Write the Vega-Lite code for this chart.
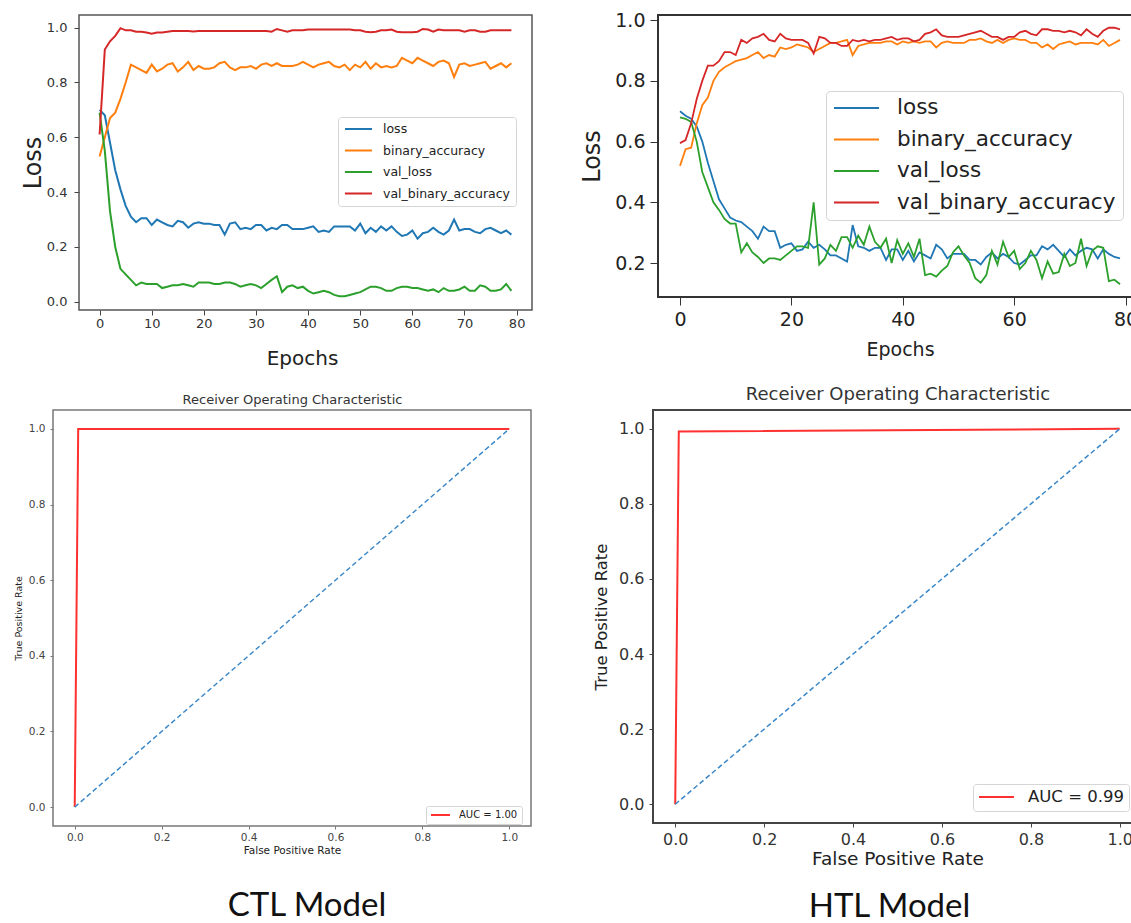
{
  "$schema": "https://vega.github.io/schema/vega-lite/v6.json",
  "background": "white",
  "padding": {"left": 12, "top": 10, "right": 0, "bottom": 0},
  "config": {
    "font": "DejaVu Sans",
    "axis": {"grid": false, "domain": false, "labelFlush": false, "labelOverlap": false, "labelFont": "DejaVu Sans", "titleFont": "DejaVu Sans", "titleFontWeight": "normal", "labelColor": "#333", "titleColor": "#222", "tickColor": "#444"},
    "legend": {"labelFont": "DejaVu Sans", "labelColor": "#222", "labelLimit": 500},
    "title": {"font": "Lato", "fontWeight": "normal"}
  },
  "datasets": {
    "ctl_hist": [
      {"epoch":0,"loss":0.70,"binary_accuracy":0.53,"val_loss":0.69,"val_binary_accuracy":0.61},
      {"epoch":1,"loss":0.68,"binary_accuracy":0.60,"val_loss":0.55,"val_binary_accuracy":0.92},
      {"epoch":2,"loss":0.58,"binary_accuracy":0.67,"val_loss":0.33,"val_binary_accuracy":0.95},
      {"epoch":3,"loss":0.48,"binary_accuracy":0.69,"val_loss":0.20,"val_binary_accuracy":0.97},
      {"epoch":4,"loss":0.41,"binary_accuracy":0.74,"val_loss":0.12,"val_binary_accuracy":0.998},
      {"epoch":5,"loss":0.35,"binary_accuracy":0.80,"val_loss":0.10,"val_binary_accuracy":0.99},
      {"epoch":6,"loss":0.31,"binary_accuracy":0.865,"val_loss":0.08,"val_binary_accuracy":0.99},
      {"epoch":7,"loss":0.29,"binary_accuracy":0.855,"val_loss":0.06,"val_binary_accuracy":0.985},
      {"epoch":8,"loss":0.305,"binary_accuracy":0.845,"val_loss":0.07,"val_binary_accuracy":0.985},
      {"epoch":9,"loss":0.305,"binary_accuracy":0.835,"val_loss":0.065,"val_binary_accuracy":0.982},
      {"epoch":10,"loss":0.28,"binary_accuracy":0.865,"val_loss":0.065,"val_binary_accuracy":0.978},
      {"epoch":11,"loss":0.30,"binary_accuracy":0.84,"val_loss":0.065,"val_binary_accuracy":0.982},
      {"epoch":12,"loss":0.29,"binary_accuracy":0.85,"val_loss":0.05,"val_binary_accuracy":0.982},
      {"epoch":13,"loss":0.28,"binary_accuracy":0.865,"val_loss":0.055,"val_binary_accuracy":0.985},
      {"epoch":14,"loss":0.275,"binary_accuracy":0.87,"val_loss":0.06,"val_binary_accuracy":0.988},
      {"epoch":15,"loss":0.295,"binary_accuracy":0.84,"val_loss":0.06,"val_binary_accuracy":0.988},
      {"epoch":16,"loss":0.29,"binary_accuracy":0.855,"val_loss":0.065,"val_binary_accuracy":0.988},
      {"epoch":17,"loss":0.27,"binary_accuracy":0.875,"val_loss":0.06,"val_binary_accuracy":0.988},
      {"epoch":18,"loss":0.285,"binary_accuracy":0.845,"val_loss":0.055,"val_binary_accuracy":0.986},
      {"epoch":19,"loss":0.29,"binary_accuracy":0.86,"val_loss":0.07,"val_binary_accuracy":0.988},
      {"epoch":20,"loss":0.285,"binary_accuracy":0.85,"val_loss":0.07,"val_binary_accuracy":0.988},
      {"epoch":21,"loss":0.285,"binary_accuracy":0.85,"val_loss":0.07,"val_binary_accuracy":0.988},
      {"epoch":22,"loss":0.28,"binary_accuracy":0.855,"val_loss":0.065,"val_binary_accuracy":0.988},
      {"epoch":23,"loss":0.28,"binary_accuracy":0.87,"val_loss":0.065,"val_binary_accuracy":0.988},
      {"epoch":24,"loss":0.245,"binary_accuracy":0.875,"val_loss":0.07,"val_binary_accuracy":0.988},
      {"epoch":25,"loss":0.285,"binary_accuracy":0.855,"val_loss":0.07,"val_binary_accuracy":0.988},
      {"epoch":26,"loss":0.29,"binary_accuracy":0.845,"val_loss":0.065,"val_binary_accuracy":0.988},
      {"epoch":27,"loss":0.265,"binary_accuracy":0.855,"val_loss":0.055,"val_binary_accuracy":0.988},
      {"epoch":28,"loss":0.27,"binary_accuracy":0.855,"val_loss":0.06,"val_binary_accuracy":0.988},
      {"epoch":29,"loss":0.265,"binary_accuracy":0.86,"val_loss":0.065,"val_binary_accuracy":0.988},
      {"epoch":30,"loss":0.28,"binary_accuracy":0.85,"val_loss":0.06,"val_binary_accuracy":0.988},
      {"epoch":31,"loss":0.28,"binary_accuracy":0.865,"val_loss":0.05,"val_binary_accuracy":0.988},
      {"epoch":32,"loss":0.26,"binary_accuracy":0.87,"val_loss":0.065,"val_binary_accuracy":0.988},
      {"epoch":33,"loss":0.27,"binary_accuracy":0.86,"val_loss":0.08,"val_binary_accuracy":0.985},
      {"epoch":34,"loss":0.265,"binary_accuracy":0.87,"val_loss":0.093,"val_binary_accuracy":0.995},
      {"epoch":35,"loss":0.28,"binary_accuracy":0.86,"val_loss":0.035,"val_binary_accuracy":0.99},
      {"epoch":36,"loss":0.28,"binary_accuracy":0.86,"val_loss":0.055,"val_binary_accuracy":0.985},
      {"epoch":37,"loss":0.265,"binary_accuracy":0.86,"val_loss":0.06,"val_binary_accuracy":0.99},
      {"epoch":38,"loss":0.265,"binary_accuracy":0.865,"val_loss":0.05,"val_binary_accuracy":0.99},
      {"epoch":39,"loss":0.265,"binary_accuracy":0.875,"val_loss":0.055,"val_binary_accuracy":0.99},
      {"epoch":40,"loss":0.27,"binary_accuracy":0.865,"val_loss":0.04,"val_binary_accuracy":0.993},
      {"epoch":41,"loss":0.275,"binary_accuracy":0.855,"val_loss":0.03,"val_binary_accuracy":0.993},
      {"epoch":42,"loss":0.255,"binary_accuracy":0.865,"val_loss":0.035,"val_binary_accuracy":0.993},
      {"epoch":43,"loss":0.26,"binary_accuracy":0.87,"val_loss":0.04,"val_binary_accuracy":0.993},
      {"epoch":44,"loss":0.255,"binary_accuracy":0.875,"val_loss":0.035,"val_binary_accuracy":0.993},
      {"epoch":45,"loss":0.275,"binary_accuracy":0.86,"val_loss":0.025,"val_binary_accuracy":0.993},
      {"epoch":46,"loss":0.275,"binary_accuracy":0.855,"val_loss":0.02,"val_binary_accuracy":0.993},
      {"epoch":47,"loss":0.275,"binary_accuracy":0.865,"val_loss":0.02,"val_binary_accuracy":0.993},
      {"epoch":48,"loss":0.275,"binary_accuracy":0.845,"val_loss":0.025,"val_binary_accuracy":0.993},
      {"epoch":49,"loss":0.26,"binary_accuracy":0.865,"val_loss":0.03,"val_binary_accuracy":0.99},
      {"epoch":50,"loss":0.285,"binary_accuracy":0.855,"val_loss":0.035,"val_binary_accuracy":0.99},
      {"epoch":51,"loss":0.25,"binary_accuracy":0.875,"val_loss":0.045,"val_binary_accuracy":0.985},
      {"epoch":52,"loss":0.27,"binary_accuracy":0.85,"val_loss":0.055,"val_binary_accuracy":0.983},
      {"epoch":53,"loss":0.255,"binary_accuracy":0.87,"val_loss":0.055,"val_binary_accuracy":0.985},
      {"epoch":54,"loss":0.275,"binary_accuracy":0.855,"val_loss":0.05,"val_binary_accuracy":0.99},
      {"epoch":55,"loss":0.26,"binary_accuracy":0.86,"val_loss":0.04,"val_binary_accuracy":0.99},
      {"epoch":56,"loss":0.275,"binary_accuracy":0.855,"val_loss":0.04,"val_binary_accuracy":0.993},
      {"epoch":57,"loss":0.255,"binary_accuracy":0.86,"val_loss":0.05,"val_binary_accuracy":0.985},
      {"epoch":58,"loss":0.24,"binary_accuracy":0.89,"val_loss":0.055,"val_binary_accuracy":0.983},
      {"epoch":59,"loss":0.245,"binary_accuracy":0.88,"val_loss":0.055,"val_binary_accuracy":0.983},
      {"epoch":60,"loss":0.26,"binary_accuracy":0.87,"val_loss":0.05,"val_binary_accuracy":0.983},
      {"epoch":61,"loss":0.23,"binary_accuracy":0.89,"val_loss":0.05,"val_binary_accuracy":0.985},
      {"epoch":62,"loss":0.25,"binary_accuracy":0.88,"val_loss":0.045,"val_binary_accuracy":0.995},
      {"epoch":63,"loss":0.255,"binary_accuracy":0.87,"val_loss":0.04,"val_binary_accuracy":0.993},
      {"epoch":64,"loss":0.27,"binary_accuracy":0.86,"val_loss":0.045,"val_binary_accuracy":0.985},
      {"epoch":65,"loss":0.255,"binary_accuracy":0.875,"val_loss":0.035,"val_binary_accuracy":0.993},
      {"epoch":66,"loss":0.245,"binary_accuracy":0.88,"val_loss":0.05,"val_binary_accuracy":0.99},
      {"epoch":67,"loss":0.26,"binary_accuracy":0.87,"val_loss":0.04,"val_binary_accuracy":0.99},
      {"epoch":68,"loss":0.30,"binary_accuracy":0.82,"val_loss":0.04,"val_binary_accuracy":0.99},
      {"epoch":69,"loss":0.26,"binary_accuracy":0.865,"val_loss":0.045,"val_binary_accuracy":0.99},
      {"epoch":70,"loss":0.265,"binary_accuracy":0.87,"val_loss":0.055,"val_binary_accuracy":0.985},
      {"epoch":71,"loss":0.265,"binary_accuracy":0.86,"val_loss":0.04,"val_binary_accuracy":0.99},
      {"epoch":72,"loss":0.255,"binary_accuracy":0.865,"val_loss":0.04,"val_binary_accuracy":0.99},
      {"epoch":73,"loss":0.25,"binary_accuracy":0.87,"val_loss":0.06,"val_binary_accuracy":0.985},
      {"epoch":74,"loss":0.265,"binary_accuracy":0.875,"val_loss":0.055,"val_binary_accuracy":0.985},
      {"epoch":75,"loss":0.27,"binary_accuracy":0.85,"val_loss":0.04,"val_binary_accuracy":0.99},
      {"epoch":76,"loss":0.26,"binary_accuracy":0.86,"val_loss":0.04,"val_binary_accuracy":0.99},
      {"epoch":77,"loss":0.25,"binary_accuracy":0.87,"val_loss":0.045,"val_binary_accuracy":0.99},
      {"epoch":78,"loss":0.26,"binary_accuracy":0.855,"val_loss":0.065,"val_binary_accuracy":0.99},
      {"epoch":79,"loss":0.245,"binary_accuracy":0.87,"val_loss":0.04,"val_binary_accuracy":0.99}
    ],
    "htl_hist": [
      {"epoch":0,"loss":0.70,"binary_accuracy":0.52,"val_loss":0.68,"val_binary_accuracy":0.595},
      {"epoch":1,"loss":0.685,"binary_accuracy":0.575,"val_loss":0.675,"val_binary_accuracy":0.605},
      {"epoch":2,"loss":0.675,"binary_accuracy":0.58,"val_loss":0.665,"val_binary_accuracy":0.66},
      {"epoch":3,"loss":0.65,"binary_accuracy":0.66,"val_loss":0.60,"val_binary_accuracy":0.74},
      {"epoch":4,"loss":0.60,"binary_accuracy":0.72,"val_loss":0.50,"val_binary_accuracy":0.80},
      {"epoch":5,"loss":0.53,"binary_accuracy":0.745,"val_loss":0.45,"val_binary_accuracy":0.85},
      {"epoch":6,"loss":0.47,"binary_accuracy":0.80,"val_loss":0.40,"val_binary_accuracy":0.85},
      {"epoch":7,"loss":0.41,"binary_accuracy":0.83,"val_loss":0.375,"val_binary_accuracy":0.865},
      {"epoch":8,"loss":0.38,"binary_accuracy":0.845,"val_loss":0.345,"val_binary_accuracy":0.895},
      {"epoch":9,"loss":0.35,"binary_accuracy":0.855,"val_loss":0.33,"val_binary_accuracy":0.895},
      {"epoch":10,"loss":0.34,"binary_accuracy":0.865,"val_loss":0.33,"val_binary_accuracy":0.885},
      {"epoch":11,"loss":0.335,"binary_accuracy":0.87,"val_loss":0.235,"val_binary_accuracy":0.935},
      {"epoch":12,"loss":0.32,"binary_accuracy":0.875,"val_loss":0.265,"val_binary_accuracy":0.925},
      {"epoch":13,"loss":0.305,"binary_accuracy":0.885,"val_loss":0.235,"val_binary_accuracy":0.94},
      {"epoch":14,"loss":0.28,"binary_accuracy":0.895,"val_loss":0.22,"val_binary_accuracy":0.945},
      {"epoch":15,"loss":0.32,"binary_accuracy":0.875,"val_loss":0.20,"val_binary_accuracy":0.955},
      {"epoch":16,"loss":0.305,"binary_accuracy":0.885,"val_loss":0.215,"val_binary_accuracy":0.935},
      {"epoch":17,"loss":0.305,"binary_accuracy":0.88,"val_loss":0.215,"val_binary_accuracy":0.93},
      {"epoch":18,"loss":0.25,"binary_accuracy":0.91,"val_loss":0.21,"val_binary_accuracy":0.955},
      {"epoch":19,"loss":0.26,"binary_accuracy":0.905,"val_loss":0.225,"val_binary_accuracy":0.94},
      {"epoch":20,"loss":0.265,"binary_accuracy":0.91,"val_loss":0.24,"val_binary_accuracy":0.935},
      {"epoch":21,"loss":0.24,"binary_accuracy":0.92,"val_loss":0.255,"val_binary_accuracy":0.935},
      {"epoch":22,"loss":0.245,"binary_accuracy":0.915,"val_loss":0.255,"val_binary_accuracy":0.935},
      {"epoch":23,"loss":0.27,"binary_accuracy":0.91,"val_loss":0.25,"val_binary_accuracy":0.925},
      {"epoch":24,"loss":0.25,"binary_accuracy":0.895,"val_loss":0.40,"val_binary_accuracy":0.89},
      {"epoch":25,"loss":0.26,"binary_accuracy":0.905,"val_loss":0.195,"val_binary_accuracy":0.945},
      {"epoch":26,"loss":0.245,"binary_accuracy":0.915,"val_loss":0.215,"val_binary_accuracy":0.94},
      {"epoch":27,"loss":0.225,"binary_accuracy":0.925,"val_loss":0.26,"val_binary_accuracy":0.925},
      {"epoch":28,"loss":0.225,"binary_accuracy":0.925,"val_loss":0.24,"val_binary_accuracy":0.925},
      {"epoch":29,"loss":0.215,"binary_accuracy":0.93,"val_loss":0.285,"val_binary_accuracy":0.915},
      {"epoch":30,"loss":0.205,"binary_accuracy":0.935,"val_loss":0.285,"val_binary_accuracy":0.915},
      {"epoch":31,"loss":0.325,"binary_accuracy":0.885,"val_loss":0.25,"val_binary_accuracy":0.935},
      {"epoch":32,"loss":0.255,"binary_accuracy":0.915,"val_loss":0.29,"val_binary_accuracy":0.93},
      {"epoch":33,"loss":0.25,"binary_accuracy":0.92,"val_loss":0.26,"val_binary_accuracy":0.935},
      {"epoch":34,"loss":0.24,"binary_accuracy":0.925,"val_loss":0.32,"val_binary_accuracy":0.93},
      {"epoch":35,"loss":0.25,"binary_accuracy":0.925,"val_loss":0.27,"val_binary_accuracy":0.935},
      {"epoch":36,"loss":0.25,"binary_accuracy":0.925,"val_loss":0.25,"val_binary_accuracy":0.935},
      {"epoch":37,"loss":0.21,"binary_accuracy":0.93,"val_loss":0.28,"val_binary_accuracy":0.94},
      {"epoch":38,"loss":0.245,"binary_accuracy":0.93,"val_loss":0.20,"val_binary_accuracy":0.945},
      {"epoch":39,"loss":0.245,"binary_accuracy":0.92,"val_loss":0.275,"val_binary_accuracy":0.935},
      {"epoch":40,"loss":0.21,"binary_accuracy":0.93,"val_loss":0.23,"val_binary_accuracy":0.94},
      {"epoch":41,"loss":0.24,"binary_accuracy":0.925,"val_loss":0.265,"val_binary_accuracy":0.94},
      {"epoch":42,"loss":0.205,"binary_accuracy":0.93,"val_loss":0.22,"val_binary_accuracy":0.93},
      {"epoch":43,"loss":0.235,"binary_accuracy":0.925,"val_loss":0.28,"val_binary_accuracy":0.935},
      {"epoch":44,"loss":0.225,"binary_accuracy":0.93,"val_loss":0.16,"val_binary_accuracy":0.955},
      {"epoch":45,"loss":0.215,"binary_accuracy":0.93,"val_loss":0.165,"val_binary_accuracy":0.96},
      {"epoch":46,"loss":0.26,"binary_accuracy":0.91,"val_loss":0.155,"val_binary_accuracy":0.97},
      {"epoch":47,"loss":0.245,"binary_accuracy":0.925,"val_loss":0.175,"val_binary_accuracy":0.95},
      {"epoch":48,"loss":0.215,"binary_accuracy":0.93,"val_loss":0.19,"val_binary_accuracy":0.945},
      {"epoch":49,"loss":0.23,"binary_accuracy":0.925,"val_loss":0.235,"val_binary_accuracy":0.945},
      {"epoch":50,"loss":0.23,"binary_accuracy":0.925,"val_loss":0.255,"val_binary_accuracy":0.945},
      {"epoch":51,"loss":0.23,"binary_accuracy":0.925,"val_loss":0.225,"val_binary_accuracy":0.95},
      {"epoch":52,"loss":0.21,"binary_accuracy":0.935,"val_loss":0.20,"val_binary_accuracy":0.955},
      {"epoch":53,"loss":0.21,"binary_accuracy":0.935,"val_loss":0.15,"val_binary_accuracy":0.96},
      {"epoch":54,"loss":0.195,"binary_accuracy":0.94,"val_loss":0.135,"val_binary_accuracy":0.965},
      {"epoch":55,"loss":0.22,"binary_accuracy":0.93,"val_loss":0.16,"val_binary_accuracy":0.955},
      {"epoch":56,"loss":0.235,"binary_accuracy":0.925,"val_loss":0.24,"val_binary_accuracy":0.945},
      {"epoch":57,"loss":0.215,"binary_accuracy":0.935,"val_loss":0.195,"val_binary_accuracy":0.945},
      {"epoch":58,"loss":0.23,"binary_accuracy":0.925,"val_loss":0.27,"val_binary_accuracy":0.935},
      {"epoch":59,"loss":0.22,"binary_accuracy":0.935,"val_loss":0.22,"val_binary_accuracy":0.945},
      {"epoch":60,"loss":0.20,"binary_accuracy":0.94,"val_loss":0.24,"val_binary_accuracy":0.945},
      {"epoch":61,"loss":0.195,"binary_accuracy":0.935,"val_loss":0.18,"val_binary_accuracy":0.96},
      {"epoch":62,"loss":0.21,"binary_accuracy":0.935,"val_loss":0.20,"val_binary_accuracy":0.965},
      {"epoch":63,"loss":0.225,"binary_accuracy":0.925,"val_loss":0.24,"val_binary_accuracy":0.955},
      {"epoch":64,"loss":0.225,"binary_accuracy":0.925,"val_loss":0.21,"val_binary_accuracy":0.95},
      {"epoch":65,"loss":0.255,"binary_accuracy":0.91,"val_loss":0.15,"val_binary_accuracy":0.97},
      {"epoch":66,"loss":0.245,"binary_accuracy":0.92,"val_loss":0.205,"val_binary_accuracy":0.97},
      {"epoch":67,"loss":0.26,"binary_accuracy":0.905,"val_loss":0.165,"val_binary_accuracy":0.965},
      {"epoch":68,"loss":0.24,"binary_accuracy":0.92,"val_loss":0.17,"val_binary_accuracy":0.965},
      {"epoch":69,"loss":0.22,"binary_accuracy":0.925,"val_loss":0.23,"val_binary_accuracy":0.96},
      {"epoch":70,"loss":0.245,"binary_accuracy":0.93,"val_loss":0.19,"val_binary_accuracy":0.965},
      {"epoch":71,"loss":0.225,"binary_accuracy":0.92,"val_loss":0.20,"val_binary_accuracy":0.96},
      {"epoch":72,"loss":0.24,"binary_accuracy":0.925,"val_loss":0.28,"val_binary_accuracy":0.95},
      {"epoch":73,"loss":0.25,"binary_accuracy":0.925,"val_loss":0.19,"val_binary_accuracy":0.97},
      {"epoch":74,"loss":0.245,"binary_accuracy":0.925,"val_loss":0.24,"val_binary_accuracy":0.955},
      {"epoch":75,"loss":0.215,"binary_accuracy":0.92,"val_loss":0.255,"val_binary_accuracy":0.945},
      {"epoch":76,"loss":0.245,"binary_accuracy":0.935,"val_loss":0.25,"val_binary_accuracy":0.965},
      {"epoch":77,"loss":0.23,"binary_accuracy":0.915,"val_loss":0.14,"val_binary_accuracy":0.975},
      {"epoch":78,"loss":0.22,"binary_accuracy":0.925,"val_loss":0.145,"val_binary_accuracy":0.975},
      {"epoch":79,"loss":0.215,"binary_accuracy":0.935,"val_loss":0.13,"val_binary_accuracy":0.97}
    ],
    "ctl_roc": [
      {"fpr":0,"tpr":0,"label":"AUC = 1.00"},
      {"fpr":0.008,"tpr":1,"label":"AUC = 1.00"},
      {"fpr":1,"tpr":1,"label":"AUC = 1.00"}
    ],
    "htl_roc": [
      {"fpr":0,"tpr":0,"label":"AUC = 0.99"},
      {"fpr":0.008,"tpr":0.993,"label":"AUC = 0.99"},
      {"fpr":1,"tpr":1,"label":"AUC = 0.99"}
    ],
    "diag": [
      {"fpr":0,"tpr":0},
      {"fpr":1,"tpr":1}
    ]
  },
  "concat": [
    {
      "hconcat": [
        {
          "width": 479, "height": 295,
          "view": {"stroke": null},
          "layer": [
            {
              "data": {"name": "ctl_hist"},
              "transform": [{"fold": ["loss","binary_accuracy","val_loss","val_binary_accuracy"], "as": ["metric","value"]}],
              "mark": {"type": "line", "strokeWidth": 2},
              "encoding": {
                "x": {"field": "epoch", "type": "quantitative", "scale": {"domain": [-8.94, 82.95], "nice": false, "zero": false},
                      "axis": {"values": [0,10,20,30,40,50,60,70,80], "title": "Epochs", "titleX": 249, "titleFontSize": 20, "titlePadding": 18, "labelFontSize": 13, "tickSize": 5, "labelPadding": 2}},
                "y": {"field": "value", "type": "quantitative", "scale": {"domain": [-0.03, 1.046], "nice": false, "zero": false},
                      "axis": {"values": [0,0.2,0.4,0.6,0.8,1.0], "format": ".1f", "title": "Loss", "offset": -26, "titleFontSize": 24, "titlePadding": 1, "labelFontSize": 13, "tickSize": 5, "labelPadding": 7, "minExtent": 33, "maxExtent": 33}},
                "color": {"field": "metric", "type": "nominal",
                          "scale": {"domain": ["loss","binary_accuracy","val_loss","val_binary_accuracy"], "range": ["#1f77b4","#ff7f0e","#2ca02c","#d62728"]},
                          "legend": {"title": null, "orient": "none", "legendX": 285, "legendY": 102, "symbolType": "stroke", "symbolSize": 729, "symbolStrokeWidth": 2, "clipHeight": 12, "labelFontSize": 12.5, "labelOffset": 10, "rowPadding": 8.5, "padding": 6, "strokeColor": "#d5d5d5", "fillColor": "white", "cornerRadius": 3}}
              }
            },
            {
              "data": {"values": [{}]},
              "mark": {"type": "rect", "filled": false, "stroke": "#555", "strokeWidth": 1.5},
              "encoding": {
                "x": {"datum": -3.95, "type": "quantitative"},
                "x2": {"datum": 82.95},
                "y": {"datum": -0.03, "type": "quantitative"},
                "y2": {"datum": 1.046}
              }
            }
          ]
        },
        {
          "width": 484, "height": 282,
          "view": {"stroke": "#333", "strokeWidth": 2},
          "data": {"name": "htl_hist"},
          "transform": [{"fold": ["loss","binary_accuracy","val_loss","val_binary_accuracy"], "as": ["metric","value"]}],
          "mark": {"type": "line", "strokeWidth": 1.8},
          "encoding": {
            "x": {"field": "epoch", "type": "quantitative", "scale": {"domain": [-3.95, 82.95], "nice": false, "zero": false},
                  "axis": {"values": [0,20,40,60,80], "title": "Epochs", "titleFontSize": 19, "titlePadding": 11, "labelFontSize": 19, "labelColor": "#222", "tickSize": 8, "tickColor": "#333", "labelPadding": 5}},
            "y": {"field": "value", "type": "quantitative", "scale": {"domain": [0.088, 1.017], "nice": false, "zero": false},
                  "axis": {"values": [0.2,0.4,0.6,0.8,1.0], "format": ".1f", "title": "Loss", "titleFontSize": 24, "titlePadding": 10, "labelFontSize": 19, "labelColor": "#222", "tickSize": 8, "tickColor": "#333", "labelPadding": 5, "minExtent": 44, "maxExtent": 44}},
            "color": {"field": "metric", "type": "nominal",
                      "scale": {"domain": ["loss","binary_accuracy","val_loss","val_binary_accuracy"], "range": ["#1f77b4","#ff7f0e","#2ca02c","#d62728"]},
                      "legend": {"title": null, "orient": "none", "legendX": 168, "legendY": 76, "symbolType": "stroke", "symbolSize": 2025, "symbolStrokeWidth": 2, "clipHeight": 20, "labelFontSize": 21.5, "labelOffset": 17, "rowPadding": 9.5, "padding": 7, "strokeColor": "#d5d5d5", "fillColor": "white", "cornerRadius": 4}}
          }
        }
      ],
      "spacing": 46,
      "resolve": {"scale": {"x": "independent", "y": "independent", "color": "independent"}, "legend": {"color": "independent"}}
    },
    {
      "hconcat": [
        {
          "width": 478, "height": 416,
          "view": {"stroke": "#777", "strokeWidth": 1.5},
          "title": {"text": "CTL Model", "orient": "bottom", "font": "Lato", "fontSize": 33, "fontWeight": "normal", "color": "#111", "offset": 34, "anchor": "middle", "frame": "group", "dx": 15},
          "layer": [
            {
              "data": {"name": "ctl_roc"},
              "mark": {"type": "line", "strokeWidth": 2},
              "encoding": {
                "x": {"field": "fpr", "type": "quantitative", "scale": {"domain": [-0.05, 1.05], "nice": false, "zero": false},
                      "axis": {"orient": "bottom", "values": [0,0.2,0.4,0.6,0.8,1.0], "format": ".1f", "title": "False Positive Rate", "titleFontSize": 10.5, "titlePadding": 3, "labelFontSize": 10.5, "labelColor": "#444", "tickSize": 3, "tickColor": "#777", "labelPadding": 3}},
                "y": {"field": "tpr", "type": "quantitative", "scale": {"domain": [-0.05, 1.05], "nice": false, "zero": false},
                      "axis": {"values": [0,0.2,0.4,0.6,0.8,1.0], "format": ".1f", "title": "True Positive Rate", "titleFontSize": 9.5, "titlePadding": 4.5, "labelFontSize": 10.5, "labelColor": "#444", "tickSize": 3, "tickColor": "#777", "labelPadding": 5, "minExtent": 25, "maxExtent": 25}},
                "color": {"field": "label", "type": "nominal", "scale": {"domain": ["AUC = 1.00"], "range": ["#ff3030"]},
                          "legend": {"title": null, "orient": "none", "legendX": 373, "legendY": 396, "symbolType": "stroke", "symbolSize": 361, "symbolStrokeWidth": 2, "clipHeight": 10, "labelFontSize": 10, "labelOffset": 8, "padding": 4, "strokeColor": "#d5d5d5", "fillColor": "white", "cornerRadius": 2}}
              }
            },
            {
              "data": {"name": "diag"},
              "mark": {"type": "line", "strokeWidth": 1.5, "strokeDash": [5, 3], "color": "#3a87c8"},
              "encoding": {
                "x": {"field": "fpr", "type": "quantitative",
                      "axis": {"orient": "top", "labels": false, "ticks": false, "domain": false, "title": "Receiver Operating Characteristic", "titleFontSize": 13, "titleColor": "#333", "titlePadding": 4}},
                "y": {"field": "tpr", "type": "quantitative"}
              }
            }
          ],
          "resolve": {"axis": {"x": "independent"}}
        },
        {
          "width": 489, "height": 413,
          "view": {"stroke": "#444", "strokeWidth": 2},
          "title": {"text": "HTL Model", "orient": "bottom", "font": "Lato", "fontSize": 33, "fontWeight": "normal", "color": "#111", "offset": 23, "anchor": "middle", "frame": "group", "dx": -8},
          "layer": [
            {
              "data": {"name": "htl_roc"},
              "mark": {"type": "line", "strokeWidth": 2},
              "encoding": {
                "x": {"field": "fpr", "type": "quantitative", "scale": {"domain": [-0.05, 1.05], "nice": false, "zero": false},
                      "axis": {"orient": "bottom", "values": [0,0.2,0.4,0.6,0.8,1.0], "format": ".1f", "title": "False Positive Rate", "titleFontSize": 18.5, "titlePadding": 2, "labelFontSize": 16, "labelColor": "#333", "tickSize": 4, "tickColor": "#444", "labelPadding": 4}},
                "y": {"field": "tpr", "type": "quantitative", "scale": {"domain": [-0.05, 1.05], "nice": false, "zero": false},
                      "axis": {"values": [0,0.2,0.4,0.6,0.8,1.0], "format": ".1f", "title": "True Positive Rate", "titleFontSize": 16.5, "titlePadding": 10, "labelFontSize": 16, "labelColor": "#333", "tickSize": 4, "tickColor": "#444", "labelPadding": 5, "minExtent": 34, "maxExtent": 34}},
                "color": {"field": "label", "type": "nominal", "scale": {"domain": ["AUC = 0.99"], "range": ["#ff3030"]},
                          "legend": {"title": null, "orient": "none", "legendX": 320, "legendY": 374, "symbolType": "stroke", "symbolSize": 1225, "symbolStrokeWidth": 2, "clipHeight": 16, "labelFontSize": 16.5, "labelOffset": 13, "padding": 5, "strokeColor": "#d5d5d5", "fillColor": "white", "cornerRadius": 3}}
              }
            },
            {
              "data": {"name": "diag"},
              "mark": {"type": "line", "strokeWidth": 1.5, "strokeDash": [5, 3], "color": "#3a87c8"},
              "encoding": {
                "x": {"field": "fpr", "type": "quantitative",
                      "axis": {"orient": "top", "labels": false, "ticks": false, "domain": false, "title": "Receiver Operating Characteristic", "titleFontSize": 18, "titleColor": "#333", "titlePadding": 7}},
                "y": {"field": "tpr", "type": "quantitative"}
              }
            }
          ],
          "resolve": {"axis": {"x": "independent"}}
        }
      ],
      "spacing": 60,
      "resolve": {"scale": {"x": "independent", "y": "independent", "color": "independent"}, "legend": {"color": "independent"}}
    }
  ],
  "columns": 1,
  "spacing": 16,
  "resolve": {"scale": {"x": "independent", "y": "independent", "color": "independent"}, "legend": {"color": "independent"}}
}
